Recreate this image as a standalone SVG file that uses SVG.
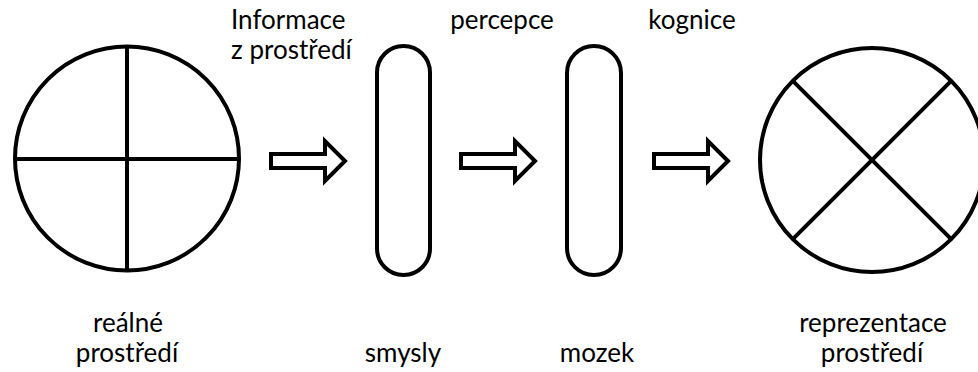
<svg xmlns="http://www.w3.org/2000/svg" width="978" height="372" viewBox="0 0 978 372">
<style>
.s{fill:none;stroke:#000;stroke-width:4}
.a{fill:#fff;stroke:#000;stroke-width:4;stroke-miterlimit:10}
.t{font-family:Lato,"Open Sans","Liberation Sans",sans-serif;font-size:26px;fill:#000}
.m{text-anchor:middle}
</style>
<defs>
<path id="arr" d="M0,-7 H54 V-20 L74,0 L54,20 V7 H0 Z"/>
</defs>
<rect width="978" height="372" fill="#fff"/>
<g id="realne">
<circle class="s" cx="127" cy="158.5" r="112"/>
<line class="s" x1="127" y1="46.5" x2="127" y2="270.5"/>
<line class="s" x1="15" y1="159" x2="239" y2="159"/>
</g>
<g id="smysly">
<rect class="s" x="377" y="46" width="53" height="229" rx="26.5"/>
</g>
<g id="mozek">
<rect class="s" x="567" y="46" width="54" height="229" rx="27"/>
</g>
<g id="reprezentace">
<circle class="s" cx="872" cy="160" r="112"/>
<line class="s" x1="792.8" y1="80.8" x2="951.2" y2="239.2"/>
<line class="s" x1="951.2" y1="80.8" x2="792.8" y2="239.2"/>
</g>
<g id="connectors">
<use href="#arr" class="a" transform="translate(271,161)"/>
<use href="#arr" class="a" transform="translate(461,161)"/>
<use href="#arr" class="a" transform="translate(654,161)"/>
</g>
<g id="labels">
<text class="t" x="231" y="29">Informace</text>
<text class="t" x="231" y="59">z prostředí</text>
<text class="t m" x="502" y="29">percepce</text>
<text class="t m" x="692" y="29">kognice</text>
<text class="t m" x="128" y="332">reálné</text>
<text class="t m" x="127" y="362">prostředí</text>
<text class="t m" x="403" y="362">smysly</text>
<text class="t m" x="597" y="362">mozek</text>
<text class="t m" x="873" y="332">reprezentace</text>
<text class="t m" x="872" y="362">prostředí</text>
</g>
</svg>
